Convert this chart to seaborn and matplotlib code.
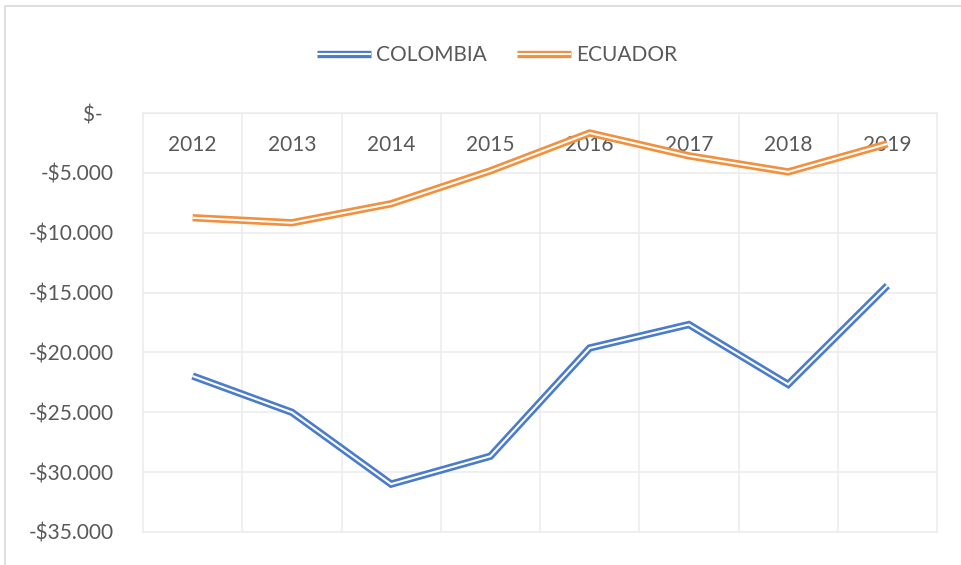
import numpy as np
import pandas as pd
import matplotlib
matplotlib.use("Agg")
import matplotlib.pyplot as plt
import seaborn as sns
from matplotlib.lines import Line2D
from matplotlib.legend_handler import HandlerTuple
from matplotlib.patches import Rectangle

# values
years = ["2012", "2013", "2014", "2015", "2016", "2017", "2018", "2019"]
colombia = [-21970, -25000, -31000, -28670, -19630, -17670, -22670, -14420]
ecuador = [-8750, -9170, -7580, -4830, -1670, -3580, -4920, -2580]
series_names = ["COLOMBIA", "ECUADOR"]
ytick_values = [0, -5000, -10000, -15000, -20000, -25000, -30000, -35000]
ytick_labels = ["$-  ", "-$5.000", "-$10.000", "-$15.000", "-$20.000",
                "-$25.000", "-$30.000", "-$35.000"]

colors = {"COLOMBIA": "#4a7ccb", "ECUADOR": "#f2903d"}
text_gray = "#595959"
grid_gray = "#ececec"
outer_lw = 5.3
inner_lw = 1.5

df = pd.DataFrame({
    "pos": list(range(len(years))) * 2,
    "value": colombia + ecuador,
    "country": [series_names[0]] * len(years) + [series_names[1]] * len(years),
})

sns.set_theme(style="white")
plt.rcParams["font.family"] = ["Lato", "DejaVu Sans"]

fig = plt.figure(figsize=(9.61, 5.65), dpi=100)
ax = fig.add_axes([143 / 961, 1 - 532 / 565, (937 - 143) / 961, (532 - 113) / 565])

# outer chart border
fig.patches.append(Rectangle((5 / 961, -0.1), 1.2, 1 - 6 / 565 + 0.1,
                             transform=fig.transFigure, fill=False,
                             edgecolor="#d9d9d9", linewidth=1.2))

# double line: thick coloured line with a thin white line on top
sns.lineplot(data=df, x="pos", y="value", hue="country", palette=colors,
             linewidth=outer_lw, legend=False, ax=ax,
             solid_joinstyle="miter", solid_capstyle="butt")
sns.lineplot(data=df, x="pos", y="value", hue="country",
             palette={k: "white" for k in series_names},
             linewidth=inner_lw, legend=False, ax=ax,
             solid_joinstyle="miter", solid_capstyle="butt")

ax.set_xlim(-0.5, len(years) - 0.5)
ax.set_ylim(-35000, 0)
ax.set_xlabel("")
ax.set_ylabel("")

ax.set_xticks(range(len(years)))
ax.set_xticklabels(years)
ax.set_xticks(np.arange(0.5, len(years) - 0.5, 1), minor=True)
ax.set_yticks(ytick_values)
ax.set_yticklabels(ytick_labels)

ax.tick_params(axis="x", which="both", bottom=False, labelbottom=False,
               top=False, labeltop=True, length=0, pad=-30,
               labelsize=15, labelcolor=text_gray)
ax.tick_params(axis="y", length=0, pad=21, labelsize=15, labelcolor=text_gray)

ax.grid(axis="y", which="major", color=grid_gray, linewidth=1.2)
ax.grid(axis="x", which="minor", color=grid_gray, linewidth=1.2)
ax.grid(axis="x", which="major", visible=False)
for s in ax.spines.values():
    s.set_color(grid_gray)
    s.set_linewidth(1.2)
ax.set_axisbelow(True)

handles = []
for name in series_names:
    handles.append((Line2D([], [], color=colors[name], linewidth=outer_lw,
                           solid_capstyle="butt"),
                    Line2D([], [], color="white", linewidth=inner_lw,
                           solid_capstyle="butt")))
leg = fig.legend(handles, series_names, loc="center",
                 bbox_to_anchor=(497 / 961, 1 - 55 / 565), ncol=2,
                 frameon=False, fontsize=15, handlelength=2.6,
                 handletextpad=0.25, columnspacing=1.45,
                 handler_map={tuple: HandlerTuple(ndivide=1)})
for t in leg.get_texts():
    t.set_color(text_gray)

fig.savefig("out.png", dpi=100)
